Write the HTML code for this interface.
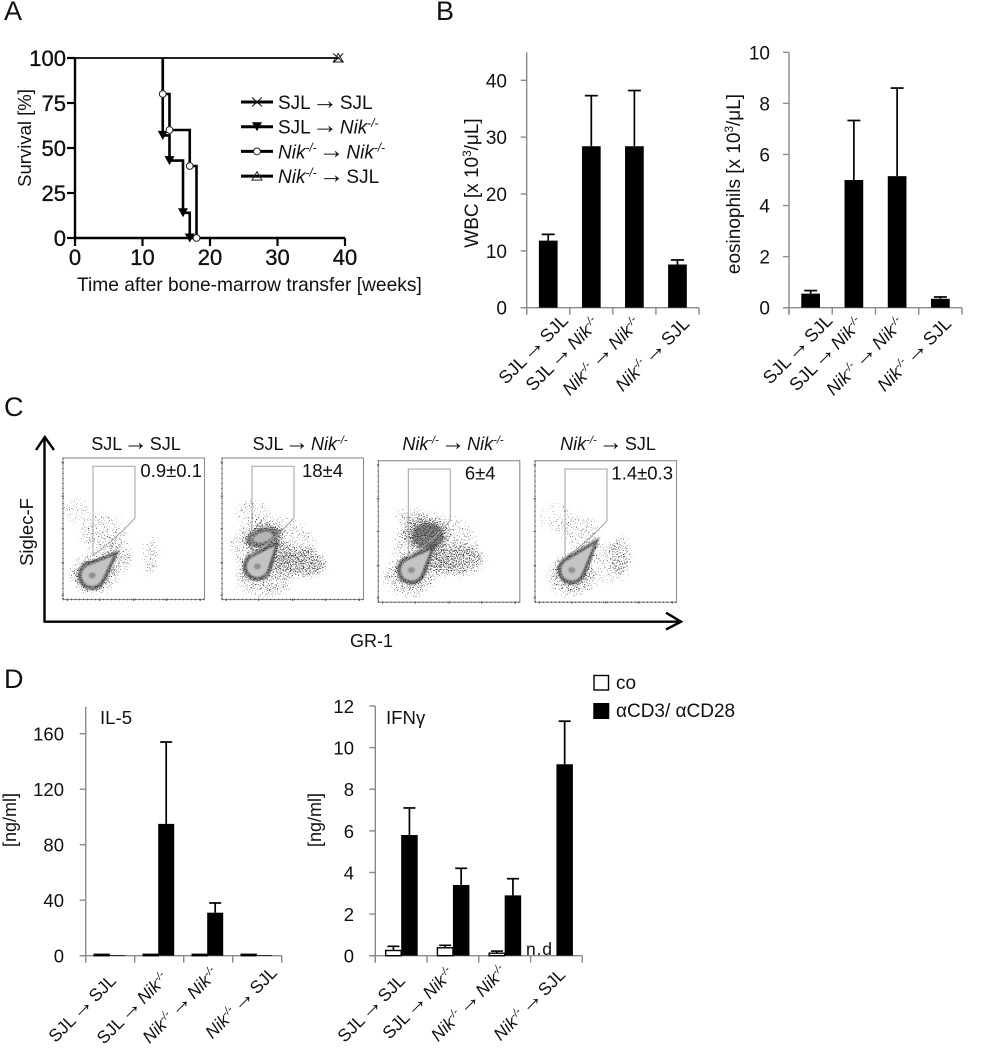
<!DOCTYPE html>
<html lang="en">
<head>
<meta charset="utf-8">
<title>Survival, blood counts, flow cytometry and cytokines</title>
<style>
html,body{margin:0;padding:0;background:#fff;width:983px;height:1050px;overflow:hidden}
svg{display:block}
text{font-family:"Liberation Sans",Arial,sans-serif;fill:#111}
</style>
</head>
<body>
<svg id="figure" xmlns="http://www.w3.org/2000/svg" width="983" height="1050" viewBox="0 0 983 1050">
<defs>
<filter id="speckle" filterUnits="objectBoundingBox" x="-20%" y="-20%" width="140%" height="140%" color-interpolation-filters="sRGB">
<feGaussianBlur in="SourceGraphic" stdDeviation="3" result="soft"/>
<feTurbulence type="fractalNoise" baseFrequency="0.85" numOctaves="2" seed="7" result="noise"/>
<feColorMatrix in="noise" type="matrix" values="0 0 0 0 0  0 0 0 0 0  0 0 0 0 0  4 0 0 0 -2" result="noiseAlpha"/>
<feComposite in="soft" in2="noiseAlpha" operator="arithmetic" k1="0" k2="5" k3="5" k4="-5"/>
</filter>
<filter id="soften" x="-20%" y="-20%" width="140%" height="140%"><feGaussianBlur stdDeviation="0.9"/></filter>
</defs>
<g id="root"></g>
</svg>
<script>
// ---------- Panel A data ----------
const survivalXTicks = [0, 10, 20, 30, 40];
const survivalYTicks = [0, 25, 50, 75, 100];
const timesSjlSjl = [0, 39];
const survivalSjlSjl = [100, 100];
const timesNikSjl = [0, 39];
const survivalNikSjl = [100, 100];
const timesSjlNik = [13, 13, 14, 16, 17];
const survivalSjlNik = [100, 57, 43, 14, 0];
const timesNikNik = [13, 13, 14, 17, 18];
const survivalNikNik = [100, 80, 60, 40, 0];
const legendLabels = ['SJL → SJL', 'SJL → Nik-/-', 'Nik-/- → Nik-/-', 'Nik-/- → SJL'];

// ---------- Shared categories ----------
const categories = ['SJL → SJL', 'SJL → Nik-/-', 'Nik-/- → Nik-/-', 'Nik-/- → SJL'];

// ---------- Panel B data ----------
const wbcTicks = [0, 10, 20, 30, 40];
const wbcValues = [11.8, 28.4, 28.4, 7.6];
const wbcErrorTops = [12.9, 37.3, 38.2, 8.4];
const eosTicks = [0, 2, 4, 6, 8, 10];
const eosValues = [0.55, 5.0, 5.15, 0.35];
const eosErrorTops = [0.67, 7.33, 8.6, 0.42];

// ---------- Panel D data ----------
const il5Ticks = [0, 40, 80, 120, 160];
const il5Control = [1, 1, 1, 1];
const il5Stimulated = [0.5, 95, 31, 0.5];
const il5ErrorTops = [0, 154, 38, 0];
const ifnTicks = [0, 2, 4, 6, 8, 10, 12];
const ifnControl = [0.25, 0.38, 0.12, 0];
const ifnControlErrorTops = [0.45, 0.5, 0.22, 0];
const ifnStimulated = [5.8, 3.4, 2.9, 9.2];
const ifnErrorTops = [7.1, 4.2, 3.7, 11.27];

// ---------- Panel C data (percent of each log axis) ----------
const flowPercentLabels = ['0.9±0.1', '18±4', '6±4', '1.4±0.3'];
const flowMainHeads = [[20.6, 17], [25, 23.4], [23.4, 22.7], [26, 22.7]];
const flowMainTails = [[40, 35], [41, 42], [41, 41], [46, 46]];
const flowClouds1 = [[10, 62, 10, 9, 0, .3], [28, 47, 17, 13, 0, .42], [62, 30, 5, 13, 0, .5], [38, 30, 10, 12, 0, .5], [22, 18, 17, 14, 0, .55]];
const flowClouds2 = [[29, 44, 15, 9, -15, 1], [56, 26, 18, 10, 5, .85], [36, 38, 30, 20, 0, .42], [22, 62, 12, 9, 0, .4], [30, 16, 20, 14, 0, .55], [40, 34, 10, 8, 0, .7]];
const flowClouds3 = [[34, 48, 16, 12, 0, 1], [24, 60, 11, 6, 0, .5], [55, 30, 20, 11, 0, .75], [40, 40, 30, 22, 0, .42], [22, 18, 18, 14, 0, .55], [40, 32, 10, 9, 0, .65]];
const flowClouds4 = [[32, 50, 13, 11, 0, .42], [60, 33, 8, 14, 0, .5], [48, 28, 20, 15, 0, .35], [15, 60, 12, 10, 0, .25], [26, 18, 17, 14, 0, .55]];
const flowSecondaryDark = [[], [[29, 44, 12, 6.5, -15]], [[35, 47, 11, 9, 0]], []];
const flowLightSpots = [[], [[29, 44, 7, 3.5, -15]], [], []];
const flowTickLevels = [0, 23, 47, 70, 94];

// ---------- Helpers ----------
const NS = 'http://www.w3.org/2000/svg';
const root = document.getElementById('root');

function add(parent, tag, attrs, name) {
  const el = document.createElementNS(NS, tag);
  for (const k in attrs) el.setAttribute(k, attrs[k]);
  
  
  parent.appendChild(el);
  return el;
}
function group(parent, name, attrs) {
  return add(parent, 'g', attrs || {}, name);
}
function rich(parent, str, attrs, name) {
  const t = add(parent, 'text', attrs, name);
  const fs = parseFloat(attrs['font-size']);
  t.style.wordSpacing = (-fs * 0.17).toFixed(2) + 'px';
  let pending = 0;
  str.split(/(Nik-\/-|\^3|→)/).forEach(part => {
    if (!part) return;
    const span = (txt, o) => {
      const s = document.createElementNS(NS, 'tspan');
      for (const k in o) s.setAttribute(k, o[k]);
      if (pending) { s.setAttribute('dy', (parseFloat(o.dy || 0) + pending).toFixed(2)); pending = 0; }
      s.textContent = txt;
      t.appendChild(s);
    };
    const rise = fs * 0.36;
    if (part === 'Nik-/-') {
      span('Nik', {'font-style': 'italic'});
      span('-/-', {'font-style': 'italic', 'font-size': (fs * 0.62).toFixed(1), dy: -rise});
      pending = rise;
    } else if (part === '^3') {
      span('3', {'font-size': (fs * 0.62).toFixed(1), dy: -rise});
      pending = rise;
    } else if (part === '→') {
      span('→', {'font-size': (fs * 1.35).toFixed(1)});
    } else {
      span(part, {});
    }
  });
  return t;
}
function line(parent, x1, y1, x2, y2, stroke, w, name) {
  return add(parent, 'line', {x1, y1, x2, y2, stroke, 'stroke-width': w}, name);
}
function poly(parent, d, attrs, name) {
  return add(parent, 'path', Object.assign({d}, attrs), name);
}

// ---------- Panel letters ----------
[['A', 4, 20], ['B', 436, 20], ['C', 4, 416], ['D', 4, 688]].forEach(p => {
  add(root, 'text', {x: p[1], y: p[2], 'font-size': 27}, 'panel-label-' + p[0].toLowerCase()).textContent = p[0];
});

// ---------- Panel A: survival ----------
(function () {
  const g = group(root, 'survival-chart');
  const sx = t => 75 + t * (345 - 75) / 40;
  const sy = v => 238 - v * (238 - 58) / 100;

  function marker(parent, kind, x, y, name) {
    if (kind === 'x') {
      poly(parent, `M${x-5} ${y-4.5}L${x+5} ${y+4.5}M${x-5} ${y+4.5}L${x+5} ${y-4.5}`, {stroke: '#111', 'stroke-width': 1, fill: 'none'}, name);
    } else if (kind === 'down') {
      poly(parent, `M${x-5} ${y-4.5}L${x+5} ${y-4.5}L${x} ${y+4.5}Z`, {fill: '#000'}, name);
    } else if (kind === 'circle') {
      add(parent, 'circle', {cx: x, cy: y, r: 3.4, fill: '#fff', stroke: '#222', 'stroke-width': 1}, name);
    } else {
      poly(parent, `M${x-5} ${y+4}L${x+5} ${y+4}L${x} ${y-4.5}Z`, {fill: 'none', stroke: '#222', 'stroke-width': 1}, name);
    }
  }
  function stepPath(ts, vs) {
    let d = `M${sx(ts[0])} ${sy(vs[0])}`;
    for (let i = 1; i < ts.length; i++) d += `H${sx(ts[i])}V${sy(vs[i])}`;
    return d;
  }

  // axes
  line(g, 75, 57, 75, 239, '#000', 2.4, 'survival-y-axis');
  line(g, 74, 238, 345, 238, '#000', 2.4, 'survival-x-axis');
  survivalYTicks.forEach(v => {
    line(g, 67, sy(v), 75, sy(v), '#000', 2.2, 'survival-y-tick');
    add(g, 'text', {x: 66, y: sy(v) + 8, 'font-size': 22, 'text-anchor': 'end', stroke: '#111', 'stroke-width': .35}, 'survival-y-tick-label').textContent = v;
  });
  survivalXTicks.forEach(v => {
    line(g, sx(v), 238, sx(v), 246, '#000', 2.2, 'survival-x-tick');
    add(g, 'text', {x: sx(v), y: 265, 'font-size': 22, 'text-anchor': 'middle', stroke: '#111', 'stroke-width': .35}, 'survival-x-tick-label').textContent = v;
  });
  add(g, 'text', {x: 0, y: 0, 'font-size': 18.5, 'text-anchor': 'middle', transform: 'translate(31 138) rotate(-90)'}, 'survival-y-axis-title').textContent = 'Survival [%]';
  add(g, 'text', {x: 77, y: 291, 'font-size': 19.2}, 'survival-x-axis-title').textContent = 'Time after bone-marrow transfer [weeks]';

  // series
  poly(g, stepPath(timesSjlSjl, survivalSjlSjl), {fill: 'none', stroke: '#000', 'stroke-width': 1.4}, 'survival-line-sjl-sjl');
  poly(g, stepPath(timesNikSjl, survivalNikSjl), {fill: 'none', stroke: '#000', 'stroke-width': 1.4}, 'survival-line-nik-sjl');
  poly(g, stepPath(timesSjlNik, survivalSjlNik), {fill: 'none', stroke: '#000', 'stroke-width': 2.6}, 'survival-line-sjl-nik');
  poly(g, stepPath(timesNikNik, survivalNikNik), {fill: 'none', stroke: '#000', 'stroke-width': 2.6}, 'survival-line-nik-nik');
  for (let i = 1; i < timesSjlNik.length; i++) marker(g, 'down', sx(timesSjlNik[i]), sy(survivalSjlNik[i]), 'survival-marker-sjl-nik');
  for (let i = 1; i < timesNikNik.length; i++) marker(g, 'circle', sx(timesNikNik[i]), sy(survivalNikNik[i]), 'survival-marker-nik-nik');
  marker(g, 'x', sx(timesSjlSjl[1]), sy(survivalSjlSjl[1]), 'survival-marker-sjl-sjl');
  marker(g, 'tri', sx(timesNikSjl[1]), sy(survivalNikSjl[1]), 'survival-marker-nik-sjl');

  // legend
  const kinds = ['x', 'down', 'circle', 'tri'];
  const lg = group(g, 'survival-legend');
  legendLabels.forEach((lab, i) => {
    const y = 102 + i * 24.7;
    line(lg, 241, y, 273, y, '#000', 3, 'legend-line');
    marker(lg, kinds[i], 257, y, 'legend-marker');
    rich(lg, lab, {x: 278, y: y + 7, 'font-size': 19}, 'legend-entry');
  });
})();

// ---------- Bar chart builder ----------
function barChart(o) {
  const g = group(root, o.name);
  const y = v => o.y0 - v * (o.y0 - o.yRefPx) / o.yRefVal;
  const band = (o.xEnd - o.x0) / o.cats.length;
  const cx = i => o.x0 + band * (i + .5);
  line(g, o.x0, o.top, o.x0, o.y0 + 7, '#8a8a8a', 1.4, o.name + '-y-axis');
  line(g, o.x0 - 6, o.y0, o.xEnd, o.y0, '#8a8a8a', 1.4, o.name + '-x-axis');
  o.ticks.forEach(v => {
    line(g, o.x0 - 6, y(v), o.x0, y(v), '#8a8a8a', 1.4, o.name + '-y-tick');
    add(g, 'text', {x: o.labelX, y: y(v) + 7, 'font-size': o.tickFont, 'text-anchor': 'end'}, o.name + '-y-tick-label').textContent = v;
  });
  for (let i = 0; i <= o.cats.length; i++) line(g, o.x0 + band * i, o.y0, o.x0 + band * i, o.y0 + 7, '#8a8a8a', 1.4, o.name + '-x-tick');

  o.cats.forEach((c, i) => {
    const center = cx(i);
    if (o.control) {
      const left = center - o.barW + o.pairShift;
      if (o.control[i] > 0) {
        if (o.controlErr && o.controlErr[i] > 0) {
          const mx = left + o.barW / 2;
          line(g, mx, y(o.control[i]), mx, y(o.controlErr[i]), '#000', 1.6, o.name + '-control-error');
          line(g, mx - 6, y(o.controlErr[i]), mx + 6, y(o.controlErr[i]), '#000', 1.6, o.name + '-control-error-cap');
        }
        add(g, 'rect', {x: left, y: y(o.control[i]), width: o.barW, height: o.y0 - y(o.control[i]), fill: '#fff', stroke: '#000', 'stroke-width': 1.4}, o.name + '-control-bar');
      }
      const sx = left + o.barW;
      const bw = o.barW + 1;
      add(g, 'rect', {x: sx, y: y(o.values[i]), width: bw, height: o.y0 - y(o.values[i]), fill: '#000'}, o.name + '-stimulated-bar');
      if (o.err[i] > 0) {
        line(g, sx + bw / 2, y(o.values[i]), sx + bw / 2, y(o.err[i]), '#000', 1.7, o.name + '-error-bar');
        line(g, sx + bw / 2 - o.cap, y(o.err[i]), sx + bw / 2 + o.cap, y(o.err[i]), '#000', 1.7, o.name + '-error-cap');
      }
    } else {
      add(g, 'rect', {x: center - o.barW / 2, y: y(o.values[i]), width: o.barW, height: o.y0 - y(o.values[i]), fill: '#000'}, o.name + '-bar');
      line(g, center, y(o.values[i]), center, y(o.err[i]), '#000', 1.7, o.name + '-error-bar');
      line(g, center - o.cap, y(o.err[i]), center + o.cap, y(o.err[i]), '#000', 1.7, o.name + '-error-cap');
    }
    const ax = center + o.labelDx[i], ay = o.y0 + o.labelDy[i];
    rich(g, c, {x: 0, y: 0, 'font-size': o.catFont, 'text-anchor': 'end', transform: `translate(${ax} ${ay}) rotate(-45)`}, o.name + '-category-label');
  });
  if (o.yTitle) rich(g, o.yTitle, {x: 0, y: 0, 'font-size': o.titleFont, 'text-anchor': 'middle', transform: `translate(${o.titleX} ${o.titleY}) rotate(-90)`}, o.name + '-y-axis-title').style.wordSpacing = '0';
  if (o.inner) add(g, 'text', {x: o.inner[1], y: 724, 'font-size': 18.6}, o.name + '-title').textContent = o.inner[0];
  return g;
}

barChart({name: 'wbc-chart', cats: categories, values: wbcValues, err: wbcErrorTops, ticks: wbcTicks,
  x0: 526.7, xEnd: 699, y0: 307.7, yRefPx: 80.3, yRefVal: 40, top: 52.3, barW: 18.7, cap: 6.5,
  labelX: 507, tickFont: 19, catFont: 18, labelDx: [21, 9, 7, 13], labelDy: [14, 17, 17, 17],
  yTitle: 'WBC [x 10^3/μL]', titleFont: 19, titleX: 478, titleY: 183});
barChart({name: 'eosinophils-chart', cats: categories, values: eosValues, err: eosErrorTops, ticks: eosTicks,
  x0: 789, xEnd: 962, y0: 307.7, yRefPx: 52.3, yRefVal: 10, top: 52.3, barW: 18.7, cap: 6.5,
  labelX: 770, tickFont: 19, catFont: 18, labelDx: [23, 10, 8, 12], labelDy: [14, 17, 17, 17],
  yTitle: 'eosinophils [x 10^3/μL]', titleFont: 19, titleX: 740, titleY: 184});
barChart({name: 'il5-chart', cats: categories, values: il5Stimulated, err: il5ErrorTops, control: il5Control, ticks: il5Ticks,
  x0: 85.7, xEnd: 281.7, y0: 955.7, yRefPx: 733.7, yRefVal: 160, top: 706.7, barW: 15, pairShift: -1, cap: 6,
  labelX: 64, tickFont: 18.5, catFont: 17.5, labelDx: [7, 10, 11, 21], labelDy: [26, 24, 19, 18],
  yTitle: '[ng/ml]', titleFont: 18, titleX: 16, titleY: 820, inner: ['IL-5', 100]});
barChart({name: 'ifn-gamma-chart', cats: categories, values: ifnStimulated, err: ifnErrorTops, control: ifnControl, controlErr: ifnControlErrorTops, ticks: ifnTicks,
  x0: 375.3, xEnd: 582.3, y0: 955.7, yRefPx: 706, yRefVal: 12, top: 706, barW: 15.5, pairShift: 0, cap: 6,
  labelX: 354, tickFont: 18.5, catFont: 17.5, labelDx: [5, 2, 3, 10], labelDy: [26, 19, 17, 20],
  yTitle: '[ng/ml]', titleFont: 18, titleX: 321, titleY: 820, inner: ['IFNγ', 386]});
add(root, 'text', {x: 526, y: 955, 'font-size': 17.5, 'letter-spacing': '.8'}, 'not-detected-label').textContent = 'n.d';

// D legend
(function () {
  const lg = group(root, 'cytokine-legend');
  add(lg, 'rect', {x: 594, y: 675.5, width: 14.5, height: 14.5, fill: '#fff', stroke: '#000', 'stroke-width': 1.4}, 'legend-swatch-control');
  add(lg, 'text', {x: 616, y: 689, 'font-size': 19}, 'legend-label-control').textContent = 'co';
  add(lg, 'rect', {x: 593.3, y: 703, width: 16, height: 16, fill: '#000'}, 'legend-swatch-stimulated');
  add(lg, 'text', {x: 616, y: 717, 'font-size': 19}, 'legend-label-stimulated').textContent = 'αCD3/ αCD28';
})();

// ---------- Panel C: flow plots ----------
(function () {
  const g = group(root, 'flow-cytometry-panel');
  const plotsLeft = [63, 222, 378.3, 535];
  const plotsTop = [458, 458, 460.7, 460.7];
  const size = 141.5;
  const allClouds = [flowClouds1, flowClouds2, flowClouds3, flowClouds4];
  const titleCenters = [136, 300, 453, 608];
  const pctAnchors = [202, 343, 495.6, 673];

  function tear(hx, hy, r, tx, ty) {
    const a = Math.atan2(ty - hy, tx - hx);
    const d = Math.hypot(tx - hx, ty - hy);
    const b = Math.acos(Math.min(.99, r / d));
    const p1x = hx + r * Math.cos(a + b), p1y = hy + r * Math.sin(a + b);
    const p2x = hx + r * Math.cos(a - b), p2y = hy + r * Math.sin(a - b);
    return `M${tx} ${ty}L${p1x} ${p1y}A${r} ${r} 0 1 1 ${p2x} ${p2y}Z`;
  }

  allClouds.forEach((clouds, i) => {
    const L = plotsLeft[i], T = plotsTop[i];
    const x = v => L + v * size / 100;
    const y = v => T + size - v * size / 100;
    const len = v => v * size / 100;
    const p = group(g, 'flow-plot-' + (i + 1));

    rich(p, categories[i], {x: titleCenters[i], y: 450, 'font-size': 18, 'text-anchor': 'middle'}, 'flow-plot-title');

    const clipId = 'flowclip' + i;
    const cp = add(p, 'clipPath', {id: clipId}, 'flow-plot-clip');
    add(cp, 'rect', {x: L, y: T, width: size, height: size}, 'flow-plot-clip-area');

    const body = group(p, 'flow-density', {'clip-path': `url(#${clipId})`});

    const cloudGroup = group(body, 'flow-speckle-cloud', {filter: 'url(#speckle)', opacity: '.75'});
    add(cloudGroup, 'rect', {x: L, y: T, width: size, height: size, fill: '#000', 'fill-opacity': 0}, 'flow-cloud-bounds');
    clouds.forEach(c => {
      add(cloudGroup, 'ellipse', {cx: x(c[0]), cy: y(c[1]), rx: len(c[2]), ry: len(c[3]), fill: '#000', 'fill-opacity': c[5], transform: `rotate(${c[4]} ${x(c[0])} ${y(c[1])})`}, 'flow-population');
    });
    const h = flowMainHeads[i], tl = flowMainTails[i];
    const hx = x(h[0]), hy = y(h[1]), tx = x(tl[0]), ty = y(tl[1]);
    poly(cloudGroup, tear(hx, hy, 15.5, tx, ty), {fill: '#000', 'fill-opacity': 1}, 'flow-main-population-halo');

    flowSecondaryDark[i].forEach(s => {
      add(body, 'ellipse', {cx: x(s[0]), cy: y(s[1]), rx: len(s[2]), ry: len(s[3]), fill: '#3a3a3a', 'fill-opacity': .55, filter: 'url(#soften)', transform: `rotate(${s[4]} ${x(s[0])} ${y(s[1])})`}, 'flow-secondary-population-band');
    });
    poly(body, tear(hx, hy, 14.5, tx, ty), {fill: '#333', 'fill-opacity': .6, filter: 'url(#soften)'}, 'flow-main-population-band');
    poly(body, tear(hx, hy, 10.5, hx + (tx - hx) * .78, hy + (ty - hy) * .78), {fill: '#c4c4c4', filter: 'url(#soften)'}, 'flow-main-population-core');
    add(body, 'ellipse', {cx: hx, cy: hy, rx: 3.5, ry: 3, fill: '#8f8f8f', filter: 'url(#soften)'}, 'flow-main-population-peak');
    flowLightSpots[i].forEach(s => {
      add(body, 'ellipse', {cx: x(s[0]), cy: y(s[1]), rx: len(s[2]), ry: len(s[3]), fill: '#b5b5b5', filter: 'url(#soften)', transform: `rotate(${s[4]} ${x(s[0])} ${y(s[1])})`}, 'flow-secondary-population-core');
    });

    // gate
    const gl = L + 30, gr = L + 72, gt = T + 8.3, gm = T + 60, gb = T + 97;
    poly(p, `M${gl} ${gb}V${gt}H${gr}V${gm}Q${gr - 20} ${gm + 22} ${gl} ${gb}Z`, {fill: 'none', stroke: '#a2a2a2', 'stroke-width': 1}, 'flow-gate');

    // box and ticks
    add(p, 'rect', {x: L, y: T, width: size, height: size, fill: 'none', stroke: '#8c8c8c', 'stroke-width': 1.1}, 'flow-plot-frame');
    flowTickLevels.forEach(v => {
      line(p, L - 1.5, y(v + 3), L + 1, y(v + 3), '#555', 1, 'flow-y-tick');
      line(p, x(v + 3), T + size - 1, x(v + 3), T + size + 1.5, '#555', 1, 'flow-x-tick');
    });
    line(p, L, T + size, L + size, T + size, '#555', 1.5, 'flow-x-minor-ticks').setAttribute('stroke-dasharray', '1 3');
    line(p, L, T, L, T + size, '#666', 1.5, 'flow-y-minor-ticks').setAttribute('stroke-dasharray', '1 4');

    add(p, 'text', {x: pctAnchors[i], y: T + 19, 'font-size': 18.5, 'text-anchor': 'end'}, 'flow-gate-percentage').textContent = flowPercentLabels[i];
  });

  // axis arrows
  poly(g, 'M44.5 622V437M36 450L44.8 437L54 450', {fill: 'none', stroke: '#000', 'stroke-width': 2.4}, 'siglec-f-axis-arrow');
  poly(g, 'M43.5 621.7H681M666 612.7L681 621.7L666 629.5', {fill: 'none', stroke: '#000', 'stroke-width': 2.4}, 'gr-1-axis-arrow');
  add(g, 'text', {x: 0, y: 0, 'font-size': 18.5, 'text-anchor': 'middle', transform: 'translate(33 532) rotate(-90)'}, 'siglec-f-axis-title').textContent = 'Siglec-F';
  add(g, 'text', {x: 350, y: 647, 'font-size': 18}, 'gr-1-axis-title').textContent = 'GR-1';
})();
</script>
</body>
</html>
